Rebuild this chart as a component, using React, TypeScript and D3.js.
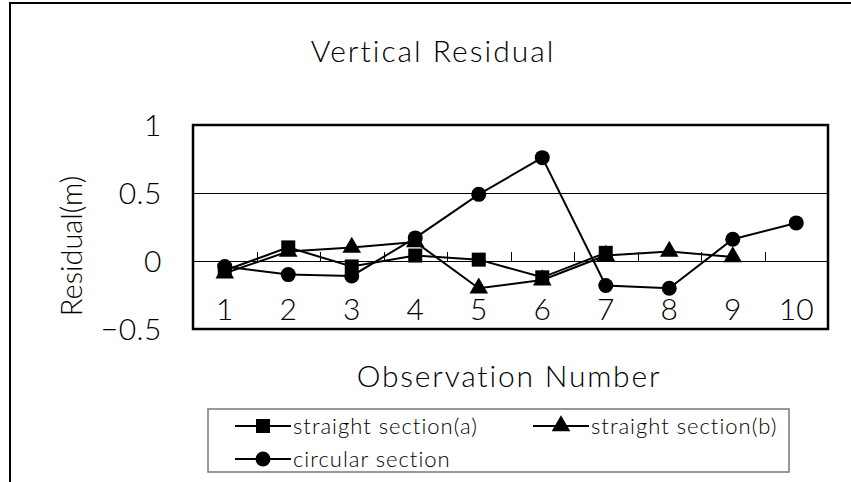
import React, { useEffect } from "react";
import * as d3 from "d3";

const observations = ["1", "2", "3", "4", "5", "6", "7", "8", "9", "10"];
const straightA = [-0.07, 0.1, -0.04, 0.04, 0.01, -0.12, 0.06];
const straightB = [-0.09, 0.07, 0.1, 0.14, -0.2, -0.14, 0.04, 0.07, 0.03];
const circular = [-0.04, -0.1, -0.11, 0.17, 0.49, 0.76, -0.18, -0.2, 0.16, 0.28];
const yTicks = [-0.5, 0, 0.5, 1];
const gridValues = [0.5];

const W = 851;
const H = 482;
const font = "Lato, 'Liberation Sans', sans-serif";

function Marker({ kind, x, y }: { kind: string; x: number; y: number }) {
  if (kind === "square") return <rect x={x - 7} y={y - 7} width={14} height={14} fill="#000" />;
  if (kind === "triangle") {
    const p = d3.symbol(d3.symbolTriangle, 150)();
    return <path d={p || ""} transform={`translate(${x},${y})`} fill="#000" />;
  }
  return <circle cx={x} cy={y} r={7.5} fill="#000" />;
}

export default function App() {
  useEffect(() => {
    document.body.style.margin = "0";
  }, []);

  const x = d3.scaleBand().domain(observations).range([193, 828]);
  const y = d3.scaleLinear().domain([-0.5, 1]).range([329, 125]);
  const cx = (i: number) => (x(observations[i]) as number) + x.bandwidth() / 2;

  const line = d3
    .line<number>()
    .x((d, i) => cx(i))
    .y((d) => y(d));

  const series = [
    { name: "straight section(a)", values: straightA, kind: "square" },
    { name: "straight section(b)", values: straightB, kind: "triangle" },
    { name: "circular section", values: circular, kind: "circle" },
  ];

  const legendPos = [
    { lx: 235, ly: 426 },
    { lx: 533, ly: 426 },
    { lx: 235, ly: 459 },
  ];

  const crisp = (v: number) => Math.round(v) + 0.5;

  return (
    <svg width={W} height={H} style={{ display: "block", background: "#fff" }}>
      {/* outer frame */}
      <rect x={10} y={3} width={900} height={600} fill="none" stroke="#000" strokeWidth={2} />

      <text x={433} y={62} textAnchor="middle" fontFamily={font} fontWeight={300} fontSize={30} letterSpacing={2}>
        Vertical Residual
      </text>

      {/* grid */}
      {gridValues.map((g) => (
        <line key={g} x1={193} x2={828} y1={crisp(y(g))} y2={crisp(y(g))} stroke="#000" strokeWidth={1} />
      ))}
      {/* zero axis with ticks */}
      <line x1={193} x2={828} y1={crisp(y(0))} y2={crisp(y(0))} stroke="#000" strokeWidth={1} />
      {observations.slice(1).map((d) => (
        <line
          key={d}
          x1={crisp(x(d) as number)}
          x2={crisp(x(d) as number)}
          y1={y(0)}
          y2={y(0) - 9}
          stroke="#000"
          strokeWidth={1}
        />
      ))}

      {/* plot frame */}
      <rect x={193} y={125} width={635} height={204} fill="none" stroke="#000" strokeWidth={2.5} />

      {/* y tick labels */}
      {yTicks.map((t) => (
        <text key={t} x={162} y={y(t) + 11} textAnchor="end" fontFamily={font} fontWeight={300} fontSize={30} letterSpacing={0.5}>
          {t < 0 ? "\u2212" + String(-t) : String(t)}
        </text>
      ))}

      {/* x tick labels inside plot */}
      {observations.map((d, i) => (
        <text key={d} x={cx(i)} y={320} textAnchor="middle" fontFamily={font} fontWeight={300} fontSize={30}>
          {d}
        </text>
      ))}

      <text
        transform={`translate(82,246) rotate(-90)`}
        textAnchor="middle"
        fontFamily={font}
        fontWeight={300}
        fontSize={29}
      >
        Residual(m)
      </text>

      <text x={509} y={387} textAnchor="middle" fontFamily={font} fontWeight={300} fontSize={30} letterSpacing={1.8}>
        Observation Number
      </text>

      {/* series */}
      {series.map((s) => (
        <g key={s.name}>
          <path d={line(s.values) || ""} fill="none" stroke="#000" strokeWidth={2} />
          {s.values.map((v, i) => (
            <Marker key={i} kind={s.kind} x={cx(i)} y={y(v)} />
          ))}
        </g>
      ))}

      {/* legend */}
      <rect x={208} y={409} width={581} height={63} fill="none" stroke="#777" strokeWidth={1.5} />
      {series.map((s, i) => {
        const { lx, ly } = legendPos[i];
        return (
          <g key={s.name}>
            <line x1={lx} x2={lx + 56} y1={ly} y2={ly} stroke="#000" strokeWidth={2} />
            <Marker kind={s.kind} x={lx + 28} y={ly} />
            <text x={lx + 58} y={ly + 8} fontFamily={font} fontWeight={300} fontSize={22} letterSpacing={1}>
              {s.name}
            </text>
          </g>
        );
      })}
    </svg>
  );
}
